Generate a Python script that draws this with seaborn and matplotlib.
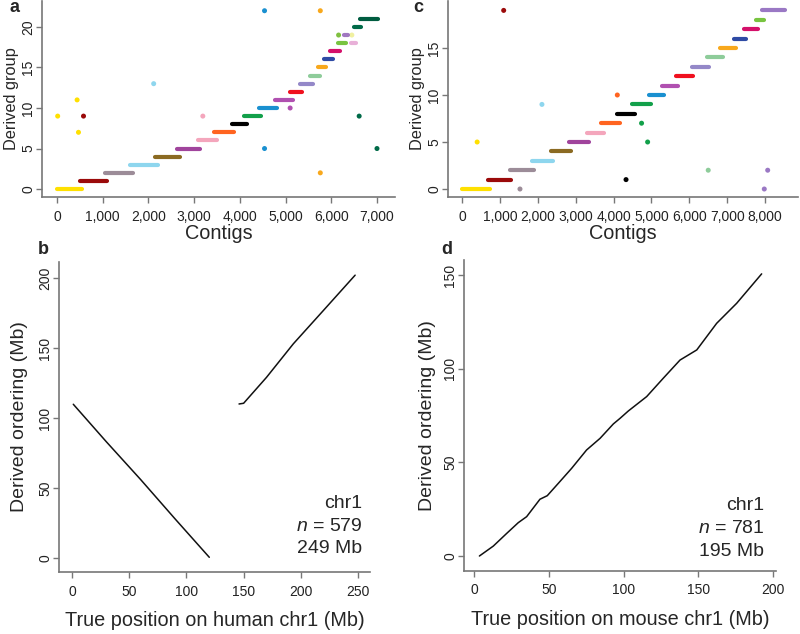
import pandas as pd
import matplotlib
matplotlib.use('Agg')
import matplotlib.pyplot as plt
import seaborn as sns
from matplotlib.ticker import StrMethodFormatter

# --- Panel a: human contigs, bars per derived group (start/end contig index) ---
a_group = [0, 1, 2, 3, 4, 5, 6, 7, 8, 9, 10, 11, 12, 13, 14, 15, 16, 17, 18, 18, 19, 20, 21]
a_start = [0, 510, 1060, 1600, 2150, 2620, 3080, 3440, 3820, 4100, 4420, 4760, 5100, 5320, 5540,
           5700, 5850, 5980, 6150, 6440, 6280, 6500, 6620]
a_end = [550, 1090, 1660, 2200, 2680, 3120, 3500, 3880, 4160, 4470, 4810, 5160, 5370, 5590, 5760,
         5890, 6030, 6200, 6320, 6550, 6370, 6640, 7020]
a_color = ['#FFE000', '#9B0A0A', '#9C8C98', '#8ED6EE', '#8B6A22', '#A0449C', '#F4A6BC', '#FF6420',
           '#000000', '#12A04A', '#1A90D0', '#B050B0', '#F0101E', '#9488C8', '#8ECC9A', '#F8A81C',
           '#2E4AA4', '#D4106A', '#78C440', '#E8B0D8', '#A078C0', '#006A48', '#005C40']

# panel a: isolated contigs
a_out_x = [15, 440, 470, 580, 2115, 3190, 5100, 4540, 4540, 5760, 5760, 6610, 7000, 6160, 6450]
a_out_y = [9, 11, 7, 9, 13, 9, 10, 22, 5, 22, 2, 9, 5, 19, 19]
a_out_c = ['#FFE000', '#FFE000', '#FFE000', '#9B0A0A', '#8ED6EE', '#F4A6BC', '#B050B0', '#1A90D0',
           '#1A90D0', '#F8A81C', '#F8A81C', '#006A48', '#006A48', '#80C040', '#F0F0A0']

# --- Panel c: mouse contigs ---
c_group = list(range(20))
c_start = [0, 680, 1270, 1850, 2340, 2830, 3300, 3680, 4100, 4490, 4940, 5270, 5640, 6060, 6460,
           6810, 7180, 7450, 7760, 7930]
c_end = [740, 1300, 1890, 2400, 2890, 3360, 3740, 4170, 4560, 5000, 5330, 5690, 6110, 6520, 6880,
         7230, 7510, 7820, 7980, 8530]
c_color = ['#FFE000', '#9B0A0A', '#9C8C98', '#8ED6EE', '#8B6A22', '#A0449C', '#F4A6BC', '#FF6420',
           '#000000', '#12A04A', '#1A90D0', '#B050B0', '#F0101E', '#9488C8', '#8ECC9A', '#F8A81C',
           '#2E4AA4', '#D4106A', '#78C440', '#9A78C4']

c_out_x = [1100, 400, 2110, 1530, 4100, 4330, 4740, 4900, 6500, 8070, 7980]
c_out_y = [19, 5, 9, 0, 10, 1, 7, 5, 2, 2, 0]
c_out_c = ['#9B0A0A', '#FFE000', '#8ED6EE', '#9C8C98', '#FF6420', '#000000', '#12A04A', '#12A04A',
           '#8ECC9A', '#9A78C4', '#9A78C4']

# --- Panel b: human chr1 derived ordering vs true position (Mb) ---
b1_x = [1.1, 30, 60, 90, 120]
b1_y = [109.8, 83, 56, 28, 0.5]
b2_x = [146, 150, 170, 193.5, 220, 247.5]
b2_y = [110, 110.5, 129, 153, 177, 202]

# --- Panel d: mouse chr1 ---
d_x = [3.6, 12.9, 21.9, 29.6, 35.2, 44.1, 49, 56.4, 65.3, 75.3, 84.3, 93.2, 97.7, 103.2, 115.5,
       126.6, 137.8, 149, 162.3, 175.7, 192.4]
d_y = [0, 5.3, 12.1, 17.8, 21, 30.3, 32.2, 38.8, 46.8, 56.6, 62.8, 70.5, 73.5, 77.4, 85.1, 94.9,
       104.6, 110, 124.2, 134.9, 150.6]

sns.set_style('ticks')
plt.rcParams['font.family'] = ['Liberation Sans', 'DejaVu Sans']
plt.rcParams['mathtext.fontset'] = 'custom'
plt.rcParams['mathtext.it'] = 'Liberation Sans:italic'
plt.rcParams['mathtext.rm'] = 'Liberation Sans'

XLABEL_FS = 14.3
TICK_FS = 10
AXIS_COL = '#777777'


def seg_frame(groups, starts, ends):
    rows = []
    for i, (g, s, e) in enumerate(zip(groups, starts, ends)):
        rows.append({'seg': i, 'group': g, 'contig': s})
        rows.append({'seg': i, 'group': g, 'contig': e})
    return pd.DataFrame(rows)


def style_axis(ax):
    sns.despine(ax=ax)
    for side in ['left', 'bottom']:
        ax.spines[side].set_color(AXIS_COL)
        ax.spines[side].set_linewidth(1.2)
    ax.tick_params(axis='both', length=4.5, width=1, color=AXIS_COL, labelsize=TICK_FS,
                   labelcolor='#222222')
    ax.tick_params(axis='x', pad=4.5)
    ax.tick_params(axis='y', labelrotation=90, pad=0.5)
    for lab in ax.get_yticklabels():
        lab.set_va('center')


def contig_panel(ax, groups, starts, ends, colors, ox, oy, oc):
    seg = seg_frame(groups, starts, ends)
    sns.lineplot(data=seg, x='contig', y='group', hue='seg', units='seg', estimator=None,
                 palette=dict(enumerate(colors)), legend=False, linewidth=3,
                 solid_capstyle='round', ax=ax)
    sns.scatterplot(x=ox, y=oy, hue=oc, palette={c: c for c in oc}, legend=False, s=13,
                    linewidth=0, ax=ax)
    ax.xaxis.set_major_formatter(StrMethodFormatter('{x:,.0f}'))


fig = plt.figure(figsize=(8, 6.34), dpi=100)
W, H = 800, 634


def px_axes(left, top, right, bottom):
    return fig.add_axes([left / W, 1 - bottom / H, (right - left) / W, (bottom - top) / H])


# panel a
ax_a = px_axes(42, 1, 395, 197)
contig_panel(ax_a, a_group, a_start, a_end, a_color, a_out_x, a_out_y, a_out_c)
ax_a.set_xlim(-328, 7394)
ax_a.set_ylim(-0.98, 23.2)
ax_a.set_xticks(range(0, 7001, 1000))
ax_a.set_yticks([0, 5, 10, 15, 20])
ax_a.set_xlabel('Contigs', fontsize=XLABEL_FS)
ax_a.set_ylabel('Derived group', fontsize=11.8)
style_axis(ax_a)
ax_a.yaxis.set_label_coords(-0.066, 0.5)
ax_a.xaxis.set_label_coords(0.5, -0.14)

# panel c
ax_c = px_axes(448, 1, 798, 197)
contig_panel(ax_c, c_group, c_start, c_end, c_color, c_out_x, c_out_y, c_out_c)
ax_c.set_xlim(-370, 8870)
ax_c.set_ylim(-0.85, 20.0)
ax_c.set_xticks(range(0, 8001, 1000))
ax_c.set_yticks([0, 5, 10, 15])
ax_c.set_xlabel('Contigs', fontsize=XLABEL_FS)
ax_c.set_ylabel('Derived group', fontsize=11.8)
style_axis(ax_c)
ax_c.yaxis.set_label_coords(-0.066, 0.5)
ax_c.xaxis.set_label_coords(0.5, -0.14)

# panel b
ax_b = px_axes(59, 262, 370, 572)
sns.lineplot(x=b1_x, y=b1_y, sort=False, estimator=None, color='#111111', linewidth=1.1, ax=ax_b)
sns.lineplot(x=b2_x, y=b2_y, sort=False, estimator=None, color='#111111', linewidth=1.1, ax=ax_b)
ax_b.set_xlim(-11.4, 260.5)
ax_b.set_ylim(-10, 211.4)
ax_b.set_xticks([0, 50, 100, 150, 200, 250])
ax_b.set_yticks([0, 50, 100, 150, 200])
ax_b.set_xlabel('True position on human chr1 (Mb)', fontsize=XLABEL_FS)
ax_b.set_ylabel('Derived ordering (Mb)', fontsize=14)
style_axis(ax_b)
ax_b.yaxis.set_label_coords(-0.1, 0.5)
ax_b.xaxis.set_label_coords(0.5, -0.126)
ax_b.text(0.975, 0.148, 'chr1\n$n$ = 579\n249 Mb', transform=ax_b.transAxes, ha='right',
          va='center', fontsize=14, linespacing=1.45)

# panel d
ax_d = px_axes(464, 260, 776, 571)
sns.lineplot(x=d_x, y=d_y, sort=False, estimator=None, color='#111111', linewidth=1.1, ax=ax_d)
ax_d.set_xlim(-6.7, 202)
ax_d.set_ylim(-8, 158)
ax_d.set_xticks([0, 50, 100, 150, 200])
ax_d.set_yticks([0, 50, 100, 150])
ax_d.set_xlabel('True position on mouse chr1 (Mb)', fontsize=XLABEL_FS)
ax_d.set_ylabel('Derived ordering (Mb)', fontsize=14)
style_axis(ax_d)
ax_d.yaxis.set_label_coords(-0.09, 0.5)
ax_d.xaxis.set_label_coords(0.5, -0.126)
ax_d.text(0.962, 0.137, 'chr1\n$n$ = 781\n195 Mb', transform=ax_d.transAxes, ha='right',
          va='center', fontsize=14, linespacing=1.45)

# panel letters
for lx, ly, letter in [(15, 8, 'a'), (418, 8, 'c'), (43, 250, 'b'), (447, 249, 'd')]:
    fig.text(lx / W, 1 - ly / H, letter, fontsize=13, fontweight='bold', ha='center', va='center')

fig.savefig('out.png', dpi=100)
